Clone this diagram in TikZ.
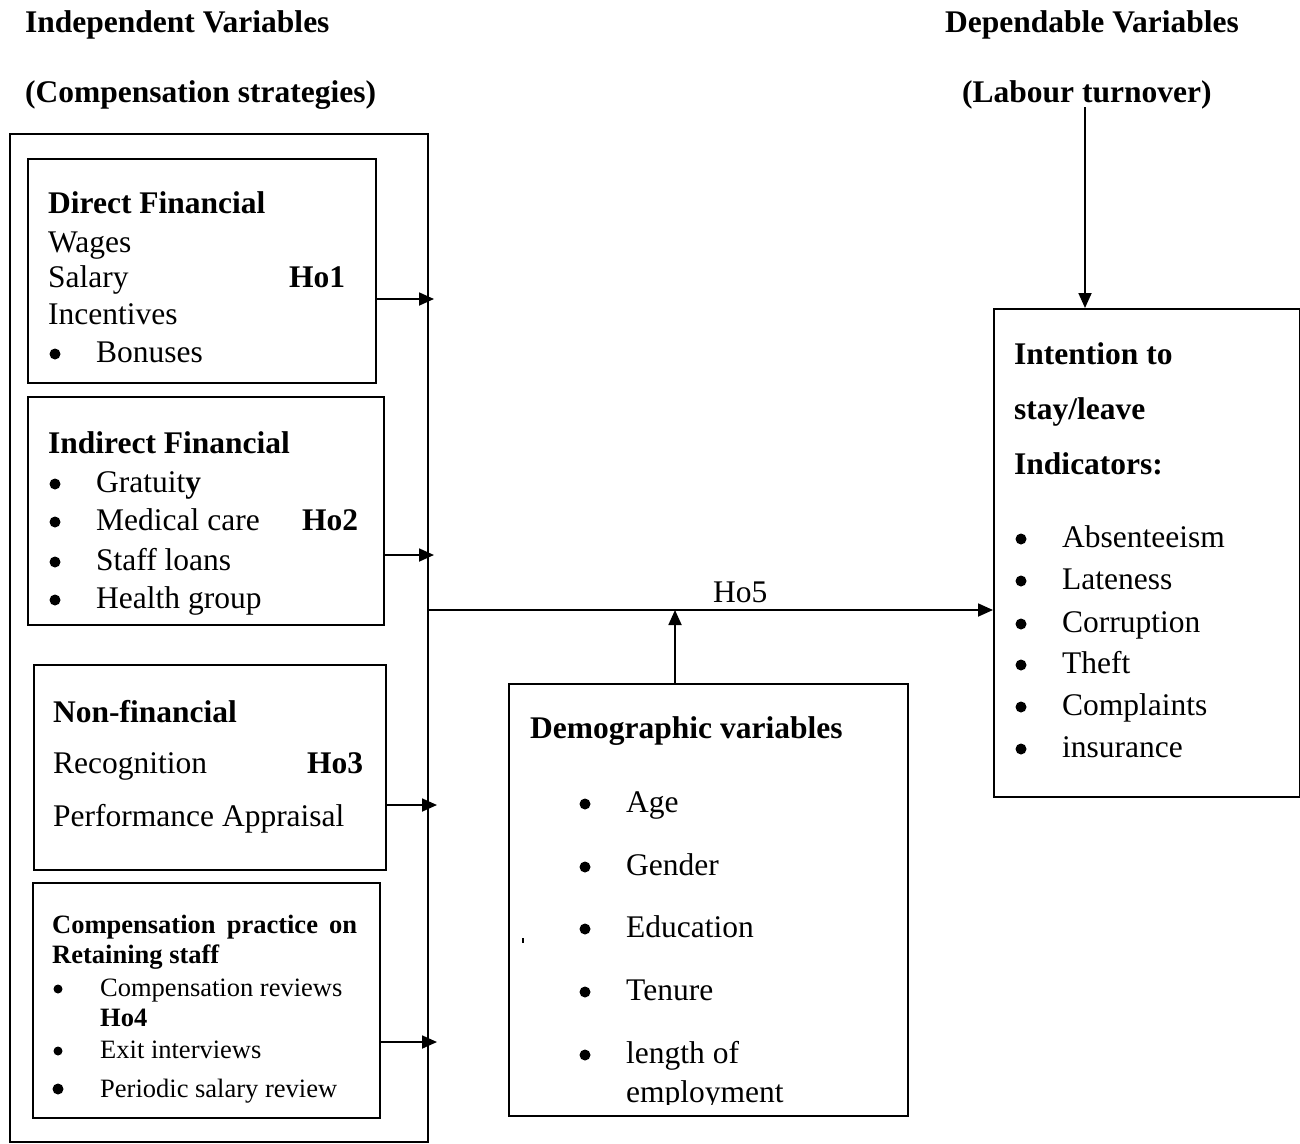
\documentclass[tikz,border=0pt]{standalone}
\usepackage{fontspec}
\setmainfont{Liberation Serif}
\usetikzlibrary{arrows.meta}
\begin{document}
\begin{tikzpicture}[x=1pt,y=-1pt,
  box/.style={draw,line width=1.8pt,inner sep=0pt,anchor=north west},
  txt/.style={anchor=base west,inner sep=0pt,font=\fontsize{31.5}{37}\selectfont},
  btxt/.style={anchor=base west,inner sep=0pt,font=\fontsize{31.5}{37}\selectfont\bfseries},
  stxt/.style={anchor=base west,inner sep=0pt,font=\fontsize{26.5}{31}\selectfont},
  sbtxt/.style={anchor=base west,inner sep=0pt,font=\fontsize{26.5}{31}\selectfont\bfseries},
  bul/.style={circle,fill=black,inner sep=0pt,minimum size=11pt,yshift=8pt},
  sbul/.style={circle,fill=black,inner sep=0pt,minimum size=9pt,yshift=7pt},
  arr/.style={line width=1.8pt,-{Triangle[length=15pt,width=13pt]}}]
\useasboundingbox (0,0) rectangle (1300,1143);

% titles
\node[btxt] (tiv) at (25,32) {Independent Variables};
\node[btxt] (tcs) at (25,102) {(Compensation strategies)};
\node[btxt] (tdv) at (945,32) {Dependable Variables};
\node[btxt] (tlt) at (962,102) {(Labour turnover)};

% boxes
\node[box,minimum width=418pt,minimum height=1008pt] (outer) at (9,133) {};
\node[box,minimum width=348pt,minimum height=224pt] (b1) at (27,158) {};
\node[box,minimum width=356pt,minimum height=228pt] (b2) at (27,396) {};
\node[box,minimum width=352pt,minimum height=205pt] (b3) at (33,664) {};
\node[box,minimum width=347pt,minimum height=235pt] (b4) at (32,882) {};
\node[box,minimum width=399pt,minimum height=432pt] (demo) at (508,683) {};
\node[box,minimum width=306pt,minimum height=488pt] (rbox) at (993,308) {};

% box 1
\node[btxt] (b1h) at (48,213) {Direct Financial};
\node[txt] (b1a) at (48,252) {Wages};
\node[txt] (b1b) at (48,287) {Salary};
\node[btxt] (ho1) at (289,287) {Ho1};
\node[txt] (b1c) at (48,324) {Incentives};
\node[bul] (b1dB) at (55,362) {};
\node[txt] (b1d) at (96,362) {Bonuses};

% box 2
\node[btxt] (b2h) at (48,453) {Indirect Financial};
\node[bul] (b2aB) at (55,492) {};
\node[txt] (b2a) at (96,492) {Gratuit\textbf{y}};
\node[bul] (b2bB) at (55,530) {};
\node[txt] (b2b) at (96,530) {Medical care};
\node[btxt] (ho2) at (302,530) {Ho2};
\node[bul] (b2cB) at (55,570) {};
\node[txt] (b2c) at (96,570) {Staff loans};
\node[bul] (b2dB) at (55,608) {};
\node[txt] (b2d) at (96,608) {Health group};

% box 3
\node[btxt] (b3h) at (53,722) {Non-financial};
\node[txt] (b3a) at (53,773) {Recognition};
\node[btxt] (ho3) at (307,773) {Ho3};
\node[txt] (b3b) at (53,826) {Performance Appraisal};

% box 4
\node[sbtxt] (b4h) at (52,933) {\makebox[305pt][s]{Compensation practice on}};
\node[sbtxt] (b4h2) at (52,963) {Retaining staff};
\node[sbul] (b4aB) at (58,996) {};
\node[stxt] (b4a) at (100,996) {Compensation reviews};
\node[sbtxt] (ho4) at (100,1026) {Ho4};
\node[sbul] (b4bB) at (58,1058) {};
\node[stxt] (b4b) at (100,1058) {Exit interviews};
\node[bul] (b4cB) at (58,1097) {};
\node[stxt] (b4c) at (100,1097) {Periodic salary review};

% demographic
\node[btxt] (dh) at (530,738) {Demographic variables};
\node[bul] (d1B) at (585,812) {};
\node[txt] (d1) at (626,812) {Age};
\node[bul] (d2B) at (585,875) {};
\node[txt] (d2) at (626,875) {Gender};
\node[bul] (d3B) at (585,937) {};
\node[txt] (d3) at (626,937) {Education};
\node[bul] (d4B) at (585,1000) {};
\node[txt] (d4) at (626,1000) {Tenure};
\node[bul] (d5B) at (585,1063) {};
\node[txt] (d5) at (626,1063) {length of};
\begin{scope}
\clip (508,683) rectangle (907,1104);
\node[txt] (d6) at (626,1102) {employment};
\end{scope}
\draw[line width=1.5pt] (523,938) -- (523,943);

% right box
\node[btxt] (r1) at (1014,364) {Intention to};
\node[btxt] (r2) at (1014,419) {stay/leave};
\node[btxt] (r3) at (1014,474) {Indicators:};
\node[bul] (ra) at (1021,547) {};
\node[txt] (rat) at (1062,547) {Absenteeism};
\node[bul] (rb) at (1021,589) {};
\node[txt] (rbt) at (1062,589) {Lateness};
\node[bul] (rc) at (1021,632) {};
\node[txt] (rct) at (1062,632) {Corruption};
\node[bul] (rd) at (1021,673) {};
\node[txt] (rdt) at (1062,673) {Theft};
\node[bul] (re) at (1021,715) {};
\node[txt] (ret) at (1062,715) {Complaints};
\node[bul] (rf) at (1021,757) {};
\node[txt] (rft) at (1062,757) {insurance};

% connectors
\coordinate (t1) at (434,299);
\coordinate (t2) at (434,555);
\coordinate (t3) at (437,805);
\coordinate (t4) at (437,1042);
\draw[arr] (b1.east |- t1) -- (t1);
\draw[arr] (b2.east |- t2) -- (t2);
\draw[arr] (b3.east |- t3) -- (t3);
\draw[arr] (b4.east |- t4) -- (t4);
\coordinate (m) at (700,610);
\draw[arr] (outer.east |- m) -- (rbox.west |- m);
\node[txt] (ho5) at (713,602) {Ho5};
\coordinate (dx) at (675,610);
\draw[arr] (demo.north -| dx) -- (dx);
\coordinate (lt) at (1085,107);
\draw[arr] (lt) -- (rbox.north -| lt);
\end{tikzpicture}
\end{document}
